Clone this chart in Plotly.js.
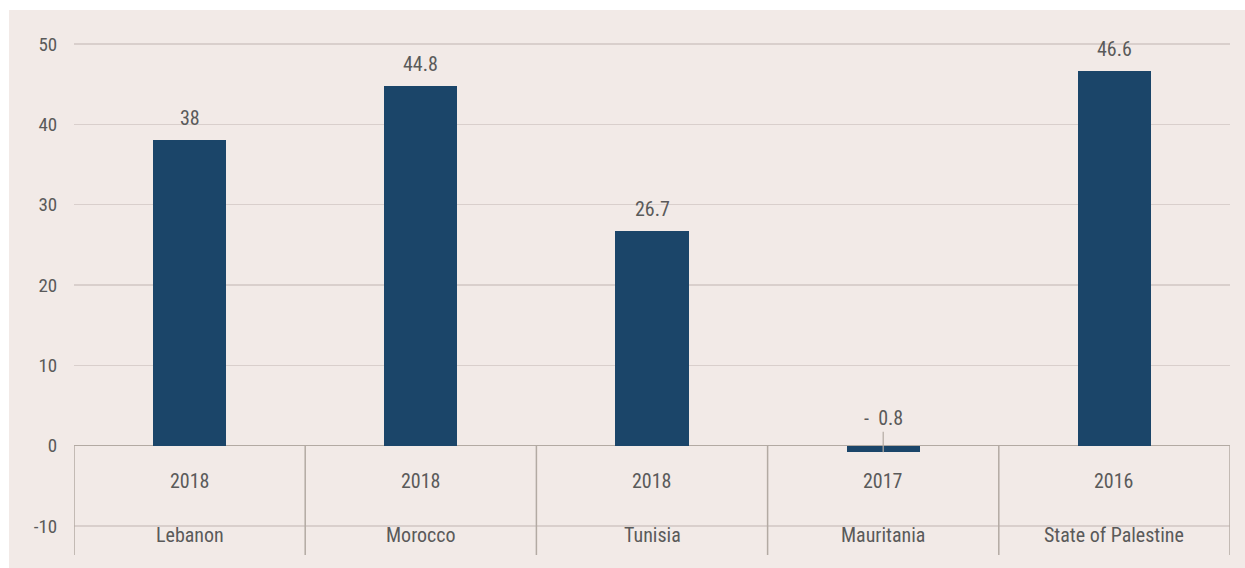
<!DOCTYPE html>
<html>
<head>
<meta charset="utf-8">
<script src="https://cdn.plot.ly/plotly-3.0.1.min.js"></script>
<style>
  html, body { margin: 0; padding: 0; background: #ffffff; }
  #chart { position: absolute; left: 9px; top: 10px; width: 1236px; height: 558px; }
</style>
</head>
<body>
<div id="chart"></div>
<script>
// Country indicator values with their reference year
const countries = ['Lebanon', 'Morocco', 'Tunisia', 'Mauritania', 'State of Palestine'];
const years = ['2018', '2018', '2018', '2017', '2016'];
const values = [38, 44.8, 26.7, -0.8, 46.6];
const yTicks = [-10, 0, 10, 20, 30, 40, 50];

const FONT = '"Roboto Condensed", "Roboto", sans-serif';
const TEXT = '#5a5a5a';
const BAR = '#1b4569';
const DIVIDER = '#b3aaa3';
const GRID = '#d9cfcc';
const BG = '#f2eae7';

const yMin = -13.6, yMax = 52;
const yearRow = -4.35, countryRow = -11.1;

const idx = countries.map((_, i) => i);

const trace = {
  type: 'bar',
  x: idx,
  y: values,
  width: 0.316,
  marker: { color: BAR, line: { width: 0 } },
  hoverinfo: 'x+y'
};

// value labels above bars; the negative bar gets a leader line
function fmt(v) { return v < 0 ? '-  ' + Math.abs(v) : String(v); }
const annotations = [];
values.forEach((v, i) => {
  if (v >= 0) {
    annotations.push({
      x: i, y: v, xref: 'x', yref: 'y', text: fmt(v), showarrow: false,
      yanchor: 'middle', yshift: 22,
      font: { family: FONT, size: 20, color: TEXT }
    });
  } else {
    annotations.push({
      x: i, y: v, xref: 'x', yref: 'y', text: fmt(v), showarrow: true,
      arrowhead: 0, arrowwidth: 1.2, arrowcolor: DIVIDER, ax: 0, ay: -34,
      standoff: 0, yanchor: 'middle',
      font: { family: FONT, size: 20, color: TEXT }
    });
  }
  // year and country rows under the zero line
  annotations.push({
    x: i, y: yearRow, xref: 'x', yref: 'y', text: years[i], showarrow: false,
    yanchor: 'middle', font: { family: FONT, size: 20, color: TEXT }
  });
  annotations.push({
    x: i, y: countryRow, xref: 'x', yref: 'y', text: countries[i], showarrow: false,
    yanchor: 'middle', font: { family: FONT, size: 20, color: TEXT }
  });
});

// category dividers hanging from the zero line
const shapes = [];
for (let k = 0; k <= countries.length; k++) {
  shapes.push({
    type: 'line', xref: 'x', yref: 'y',
    x0: k - 0.5, x1: k - 0.5, y0: 0, y1: yMin,
    line: { color: DIVIDER, width: 1.5 }
  });
}

const layout = {
  width: 1236,
  height: 558,
  margin: { l: 65, r: 15, t: 18, b: 13 },
  paper_bgcolor: BG,
  plot_bgcolor: BG,
  showlegend: false,
  bargap: 0,
  xaxis: {
    type: 'linear',
    range: [-0.5, countries.length - 0.5],
    showticklabels: false,
    showgrid: false,
    zeroline: false,
    showline: false,
    ticks: '',
    fixedrange: true
  },
  yaxis: {
    range: [yMin, yMax],
    tickvals: yTicks,
    ticktext: yTicks.map(String),
    showgrid: true,
    gridcolor: GRID,
    gridwidth: 1.2,
    zeroline: true,
    zerolinecolor: DIVIDER,
    zerolinewidth: 1.5,
    showline: false,
    ticks: 'outside',
    ticklen: 12,
    tickcolor: 'rgba(0,0,0,0)',
    tickfont: { family: FONT, size: 19, color: TEXT },
    fixedrange: true
  },
  annotations: annotations,
  shapes: shapes
};

Plotly.newPlot('chart', [trace], layout, { displayModeBar: false, staticPlot: true });
</script>
</body>
</html>
